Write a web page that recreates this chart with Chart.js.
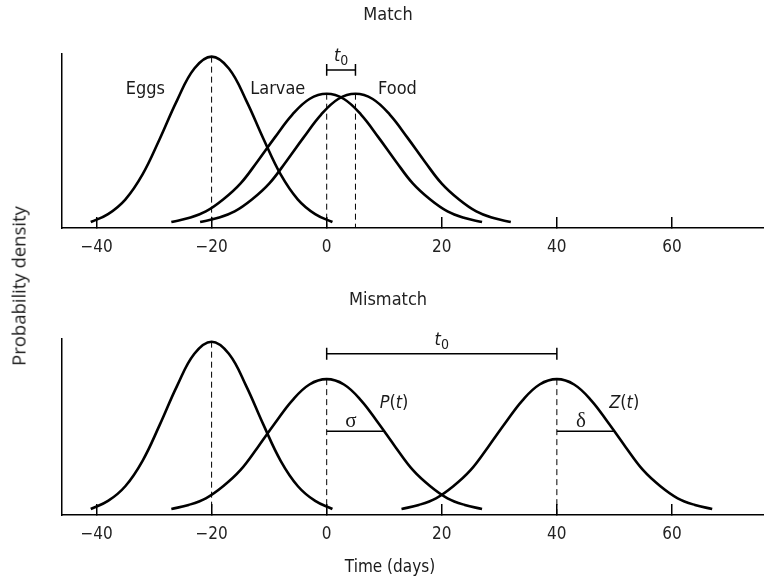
<!DOCTYPE html>
<html>
<head>
<meta charset="utf-8">
<script src="https://cdn.jsdelivr.net/npm/chart.js@4.4.1/dist/chart.umd.min.js"></script>
<style>
  html, body { margin: 0; padding: 0; background: #fff; }
  #wrap { position: relative; width: 764px; height: 581px; }
  #top { position: absolute; left: 0; top: 0; }
  #bottom { position: absolute; left: 0; top: 290px; }
  #ylabel {
    position: absolute; left: 18px; top: 286px;
    transform: translate(-50%, -50%) rotate(-90deg);
    font: 18.5px "Open Sans", sans-serif; color: #1a1a1a; white-space: nowrap;
  }
</style>
</head>
<body>
<div id="wrap">
  <canvas id="top" width="764" height="290"></canvas>
  <canvas id="bottom" width="764" height="291"></canvas>
  <div id="ylabel">Probability density</div>
</div>
<script>
const NARROW = '"Liberation Sans Narrow", "DejaVu Sans Condensed", "Roboto Condensed", sans-serif';

// densities, larvae peak = 1
const eggsDays = [-41, -38, -35, -32, -29, -26, -23, -20, -17, -14, -11, -8, -5, -2, 1];
const eggsDensity = [0.03, 0.09, 0.20, 0.39, 0.66, 0.95, 1.19, 1.28, 1.19, 0.95, 0.66, 0.39, 0.20, 0.09, 0.03];

const larvaeDays = [-27, -24, -21, -18, -15, -12, -9, -6, -3, 0, 3, 6, 9, 12, 15, 18, 21, 24, 27];
const larvaeDensity = [0.03, 0.06, 0.11, 0.20, 0.32, 0.49, 0.67, 0.84, 0.96, 1.00, 0.96, 0.84, 0.67, 0.49, 0.32, 0.20, 0.11, 0.06, 0.03];

const foodMatchDays = [-22, -19, -16, -13, -10, -7, -4, -1, 2, 5, 8, 11, 14, 17, 20, 23, 26, 29, 32];
const foodMatchDensity = [0.03, 0.06, 0.11, 0.20, 0.32, 0.49, 0.67, 0.84, 0.96, 1.00, 0.96, 0.84, 0.67, 0.49, 0.32, 0.20, 0.11, 0.06, 0.03];

const foodMismatchDays = [13, 16, 19, 22, 25, 28, 31, 34, 37, 40, 43, 46, 49, 52, 55, 58, 61, 64, 67];
const foodMismatchDensity = [0.03, 0.06, 0.11, 0.20, 0.32, 0.49, 0.67, 0.84, 0.96, 1.00, 0.96, 0.84, 0.67, 0.49, 0.32, 0.20, 0.11, 0.06, 0.03];

// peak days (eggs, larvae, food) and heights
const matchPeaks = [-20, 0, 5];
const mismatchPeaks = [-20, 0, 40];
const peakHeights = [1.28, 1.00, 1.00];

// t0 lags, sigma / delta spreads
const matchLag = [0, 5];
const mismatchLag = [0, 40];
const larvaeSpread = [0, 10];
const foodSpread = [40, 50];
const spreadHeight = 0.61;

const Y_MIN = -0.015, Y_MAX = 1.30;

function pts(xs, ys) {
  return xs.map((x, i) => ({ x: x, y: ys[i] }));
}
function curve(xs, ys) {
  return { data: pts(xs, ys), borderColor: '#000', borderWidth: 2.6, pointRadius: 0, tension: 0.4 };
}
function dashed(x, top) {
  return { data: [{ x: x, y: top }, { x: x, y: Y_MIN }], borderColor: '#000', borderWidth: 1, borderDash: [6, 4], pointRadius: 0 };
}
function bracket(span, y, h) {
  const [a, b] = span;
  return {
    data: [{ x: a, y: y - h }, { x: a, y: y + h }, { x: a, y: y }, { x: b, y: y }, { x: b, y: y + h }, { x: b, y: y - h }],
    borderColor: '#000', borderWidth: 1.5, pointRadius: 0
  };
}
function hline(span, y) {
  return { data: [{ x: span[0], y: y }, { x: span[1], y: y }], borderColor: '#000', borderWidth: 1.5, pointRadius: 0 };
}

// text with italic / subscript pieces
function drawRich(ctx, parts, cx, cy) {
  const fontOf = p => {
    const size = p.size || (p.sub ? 14 : 18);
    const fam = p.serif ? '"Liberation Serif", serif' : NARROW;
    return (p.i ? 'italic ' : '') + size + 'px ' + fam;
  };
  let total = 0;
  parts.forEach(p => { ctx.font = fontOf(p); p.w = ctx.measureText(p.t).width; total += p.w; });
  let x = cx - total / 2;
  parts.forEach(p => {
    ctx.font = fontOf(p);
    ctx.fillText(p.t, x, cy + (p.sub ? 5 : 0));
    x += p.w;
  });
}

const notes = {
  id: 'notes',
  afterDatasetsDraw(chart, args, opts) {
    const { ctx, scales: { x, y } } = chart;
    ctx.save();
    ctx.fillStyle = '#1a1a1a';
    ctx.textBaseline = 'middle';
    ctx.textAlign = 'left';
    (opts.items || []).forEach(it => drawRich(ctx, it.parts, x.getPixelForValue(it.x), y.getPixelForValue(it.y)));
    ctx.restore();
  }
};

function makeChart(id, cfg) {
  const canvas = document.getElementById(id);
  return new Chart(canvas, {
    type: 'line',
    data: { datasets: cfg.datasets },
    plugins: [notes],
    options: {
      responsive: false,
      animation: false,
      devicePixelRatio: 1,
      layout: { padding: { left: 12, right: 0, top: 0, bottom: 0 } },
      plugins: {
        legend: { display: false },
        tooltip: { enabled: false },
        title: {
          display: true, text: cfg.title, color: '#222',
          font: { family: NARROW, size: 18, weight: 'normal' },
          padding: cfg.titlePadding
        },
        notes: { items: cfg.notes }
      },
      scales: {
        x: {
          type: 'linear', min: -46, max: 76,
          grid: { display: true, drawOnChartArea: false, drawTicks: true, tickLength: -11, color: '#000', lineWidth: 1.5 },
          border: { display: true, color: '#000', width: 1.5 },
          ticks: {
            stepSize: 20, includeBounds: false, padding: 20, color: '#222',
            font: { family: NARROW, size: 17 },
            maxRotation: 0,
            callback: v => String(v).replace('-', '\u2212')
          },
          afterFit: s => { s.height = canvas.height - cfg.areaBottom; }
        },
        y: {
          min: Y_MIN, max: Y_MAX,
          grid: { display: false },
          border: { display: true, color: '#000', width: 1.5 },
          ticks: { display: false },
          afterFit: s => { s.width = 50; }
        }
      }
    }
  });
}

const t0 = [{ t: 't', i: 1 }, { t: '0', sub: 1 }];

makeChart('top', {
  title: 'Match',
  titlePadding: { top: 5, bottom: 27.4 },
  areaBottom: 228,
  datasets: [
    curve(eggsDays, eggsDensity),
    curve(larvaeDays, larvaeDensity),
    curve(foodMatchDays, foodMatchDensity),
    dashed(matchPeaks[0], peakHeights[0]),
    dashed(matchPeaks[1], peakHeights[1]),
    dashed(matchPeaks[2], peakHeights[2]),
    bracket(matchLag, 1.18, 0.045)
  ],
  notes: [
    { parts: [{ t: 'Eggs' }], x: -31.5, y: 1.03 },
    { parts: [{ t: 'Larvae' }], x: -8.5, y: 1.03 },
    { parts: [{ t: 'Food' }], x: 12.3, y: 1.03 },
    { parts: t0, x: 2.5, y: 1.28 }
  ]
});

makeChart('bottom', {
  title: 'Mismatch',
  titlePadding: { top: 0, bottom: 27.4 },
  areaBottom: 225,
  datasets: [
    curve(eggsDays, eggsDensity),
    curve(larvaeDays, larvaeDensity),
    curve(foodMismatchDays, foodMismatchDensity),
    dashed(mismatchPeaks[0], peakHeights[0]),
    dashed(mismatchPeaks[1], peakHeights[1]),
    dashed(mismatchPeaks[2], peakHeights[2]),
    bracket(mismatchLag, 1.19, 0.045),
    hline(larvaeSpread, spreadHeight),
    hline(foodSpread, spreadHeight)
  ],
  notes: [
    { parts: t0, x: 20, y: 1.29 },
    { parts: [{ t: 'P', i: 1 }, { t: '(' }, { t: 't', i: 1 }, { t: ')' }], x: 11.7, y: 0.82 },
    { parts: [{ t: 'Z', i: 1 }, { t: '(' }, { t: 't', i: 1 }, { t: ')' }], x: 51.7, y: 0.82 },
    { parts: [{ t: '\u03c3', serif: 1, size: 21 }], x: 4.2, y: 0.68 },
    { parts: [{ t: '\u03b4', serif: 1, size: 21 }], x: 44.2, y: 0.68 },
    { parts: [{ t: 'Time (days)', size: 17 }], x: 11.0, y: -0.41 }
  ]
});
</script>
</body>
</html>
